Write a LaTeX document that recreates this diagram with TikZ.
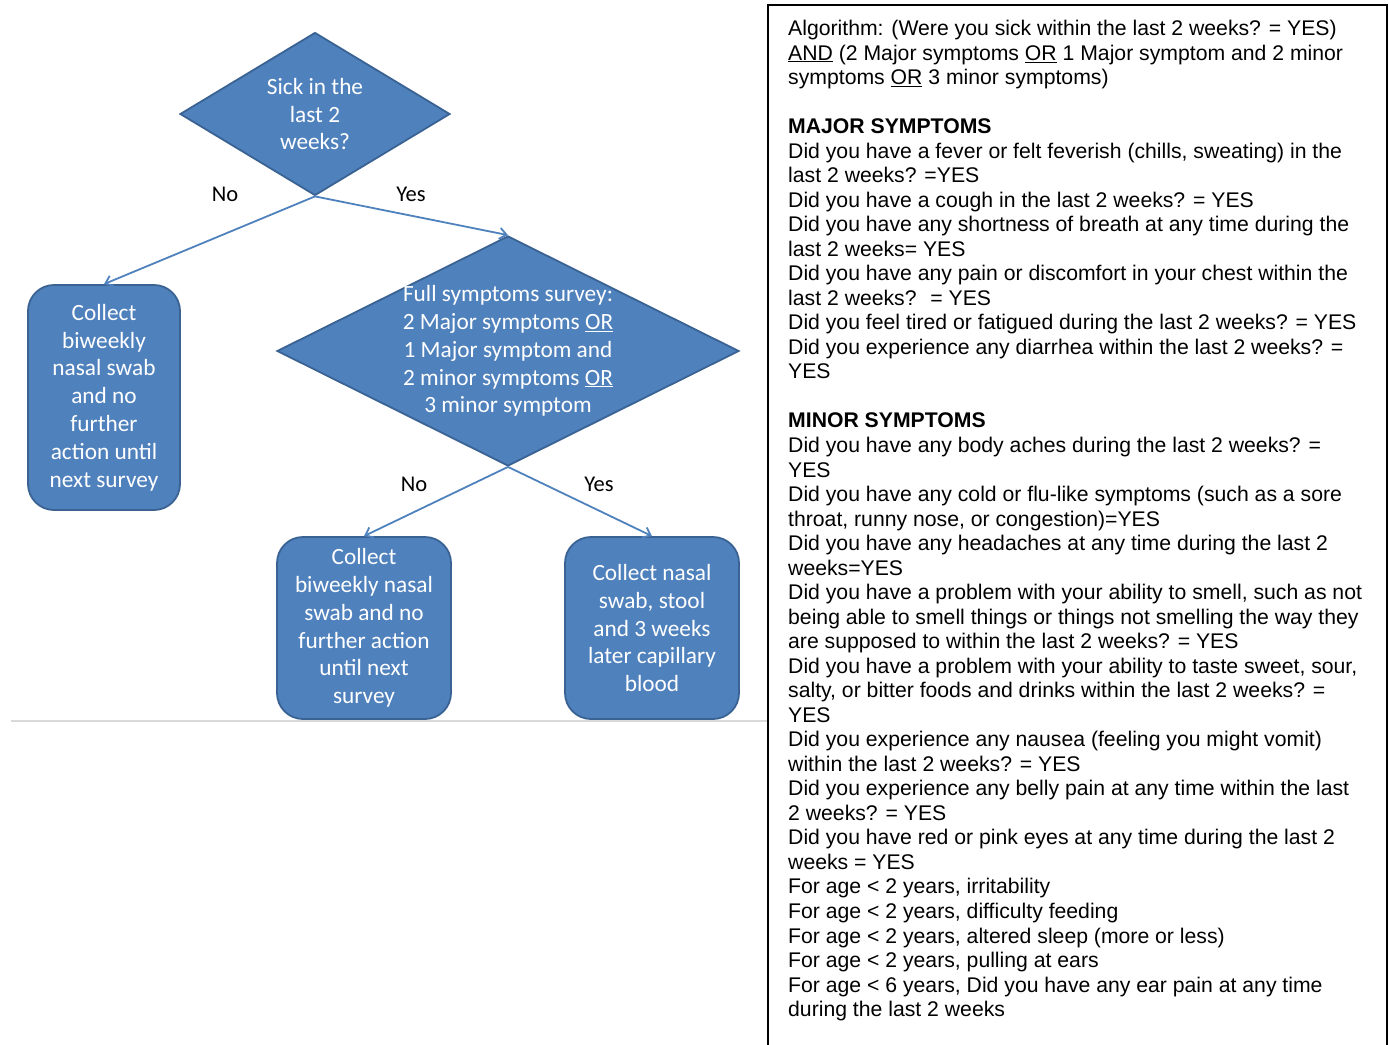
\documentclass[tikz,border=0pt]{standalone}
\usepackage{fontspec}
\setmainfont{Liberation Sans}
\newfontfamily\calib{Carlito}
\usetikzlibrary{shapes.geometric,arrows.meta}
\definecolor{ofblue}{HTML}{4F81BD}
\definecolor{ofedge}{HTML}{3A6293}
\begin{document}
\begin{tikzpicture}[x=1pt,y=-1pt,
  dia/.style={diamond, draw=ofedge, fill=ofblue, line width=1.8pt, inner sep=-12pt,
    text=white, align=center, font=\calib\fontsize{23.3}{27.8}\selectfont},
  rbox/.style={rectangle, rounded corners=26pt, draw=ofedge, fill=ofblue, line width=1.8pt,
    inner sep=0pt, text=white, align=center, font=\calib\fontsize{23.3}{27.8}\selectfont},
  conn/.style={draw=ofblue, line width=1.8pt, -{Straight Barb[length=7pt,width=11pt]}},
  lab/.style={text=black, font=\calib\fontsize{22.5}{25}\selectfont},
  rtext/.style={anchor=north west, inner sep=0pt, align=left, font=\fontsize{21.2}{24.525}\selectfont}
]
\useasboundingbox (0,0) rectangle (1389,1044);
% separator
\draw[gray!30, line width=1.5pt] (11,721) -- (768,721);
% right panel frame
\draw[black, line width=1.5pt] (768,1050) -- (768,5) -- (1387,5) -- (1387,1050);

% flowchart
\node[dia, aspect=1.66, minimum width=270pt, minimum height=163pt] (d1) at (315,114) {Sick in the\\last 2\\weeks?};
\node[dia, aspect=2, minimum width=462pt, minimum height=230pt] (d2) at (508,351)
  {Full symptoms survey:\\2 Major symptoms \underline{OR}\\1 Major symptom and\\2 minor symptoms \underline{OR}\\3 minor symptom};
\node[rbox, minimum width=152pt, minimum height=225pt] (bl) at (104,397.5)
  {Collect\\biweekly\\nasal swab\\and no\\further\\action until\\next survey};
\node[rbox, minimum width=174pt, minimum height=182pt] (bm) at (364,628)
  {Collect\\biweekly nasal\\swab and no\\further action\\until next\\survey};
\node[rbox, minimum width=174pt, minimum height=182pt] (br) at (652,628)
  {Collect nasal\\swab, stool\\and 3 weeks\\later capillary\\blood};

\draw[conn] (d1.south) -- (bl.north);
\draw[conn] (d1.south) -- (d2.north);
\draw[conn] (d2.south) -- (bm.north);
\draw[conn] (d2.south) -- (br.north);

\node[lab] (n1) at (225,194) {No};
\node[lab] (y1) at (411,194) {Yes};
\node[lab] (n2) at (414,484) {No};
\node[lab] (y2) at (599,484) {Yes};

% algorithm text
\node[rtext] (alg) at (788,20) {%
Algorithm: (Were you sick within the last 2 weeks? = YES)\\
\underline{AND} (2 Major symptoms \underline{OR} 1 Major symptom and 2 minor\\
symptoms \underline{OR} 3 minor symptoms)\\
\mbox{}\\
\textbf{MAJOR SYMPTOMS}\\
Did you have a fever or felt feverish (chills, sweating) in the\\
last 2 weeks? =YES\\
Did you have a cough in the last 2 weeks? = YES\\
Did you have any shortness of breath at any time during the\\
last 2 weeks= YES\\
Did you have any pain or discomfort in your chest within the\\
last 2 weeks?~ = YES\\
Did you feel tired or fatigued during the last 2 weeks? = YES\\
Did you experience any diarrhea within the last 2 weeks? =\\
YES\\
\mbox{}\\
\textbf{MINOR SYMPTOMS}\\
Did you have any body aches during the last 2 weeks? =\\
YES\\
Did you have any cold or flu-like symptoms (such as a sore\\
throat, runny nose, or congestion)=YES\\
Did you have any headaches at any time during the last 2\\
weeks=YES\\
Did you have a problem with your ability to smell, such as not\\
being able to smell things or things not smelling the way they\\
are supposed to within the last 2 weeks? = YES\\
Did you have a problem with your ability to taste sweet, sour,\\
salty, or bitter foods and drinks within the last 2 weeks? =\\
YES\\
Did you experience any nausea (feeling you might vomit)\\
within the last 2 weeks? = YES\\
Did you experience any belly pain at any time within the last\\
2 weeks? = YES\\
Did you have red or pink eyes at any time during the last 2\\
weeks = YES\\
For age < 2 years, irritability\\
For age < 2 years, difficulty feeding\\
For age < 2 years, altered sleep (more or less)\\
For age < 2 years, pulling at ears\\
For age < 6 years, Did you have any ear pain at any time\\
during the last 2 weeks};
\end{tikzpicture}
\end{document}
